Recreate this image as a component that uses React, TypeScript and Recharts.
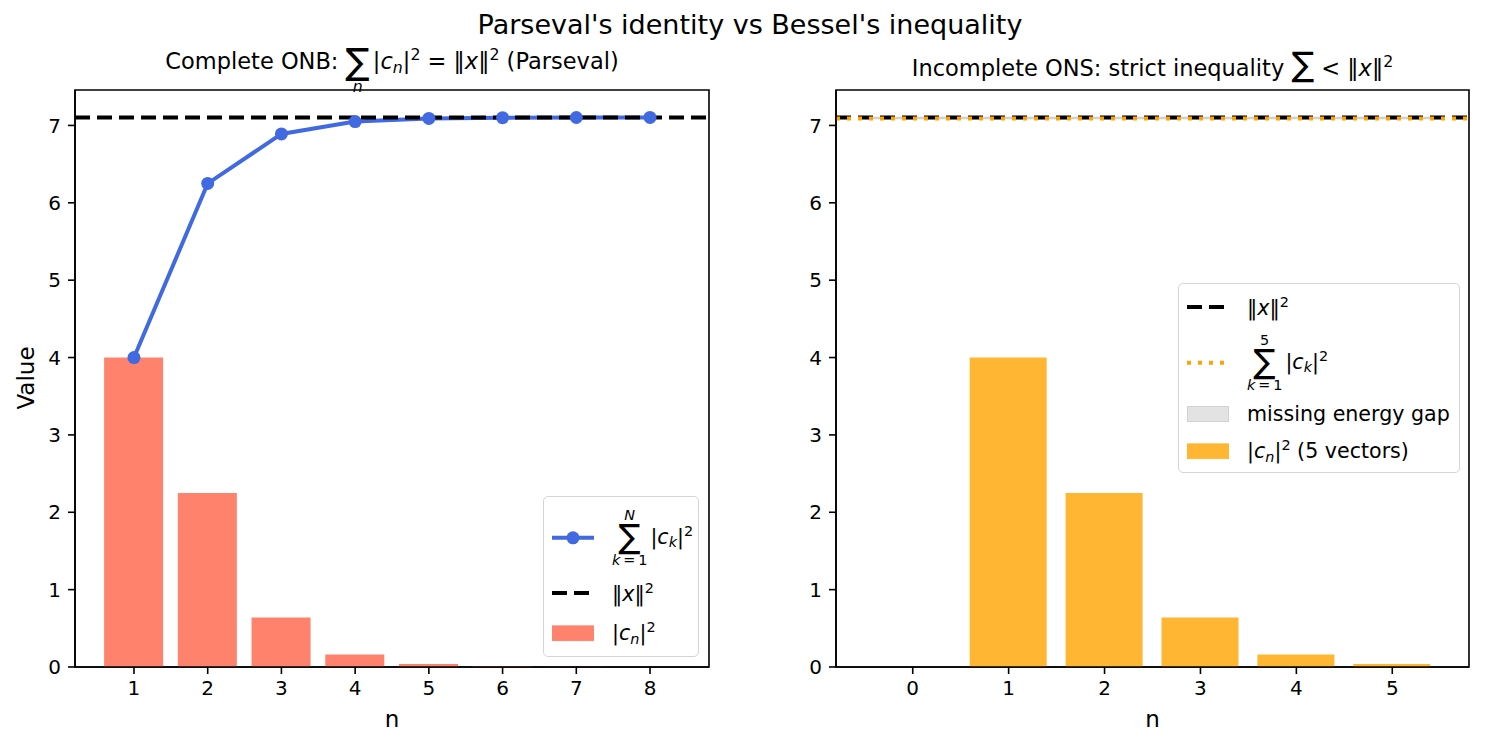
import React from 'react';
import { ComposedChart, Bar, Line, XAxis, YAxis, ReferenceLine, ReferenceArea } from 'recharts';

// left panel: complete ONB, n = 1..8
const nFull = [1, 2, 3, 4, 5, 6, 7, 8];
const coeffSq = [4, 2.25, 0.64, 0.16, 0.04, 0.01, 0.0025, 0.000625];
const partialSums = [4, 6.25, 6.89, 7.05, 7.09, 7.1, 7.1025, 7.1031];
const normSq = 7.1031;

// right panel: incomplete ONS, 5 vectors
const nPartial = [1, 2, 3, 4, 5];
const coeffSqPartial = [4, 2.25, 0.64, 0.16, 0.04];
const partialSum5 = 7.09;

const leftTicks = [1, 2, 3, 4, 5, 6, 7, 8];
const rightTicks = [0, 1, 2, 3, 4, 5];
const yTicks = [0, 1, 2, 3, 4, 5, 6, 7];
const yMax = 7.458;

const FONT = '"DejaVu Sans", sans-serif';
const BLUE = '#4169E1';
const SALMON = '#FF826C';
const ORANGE = '#FFB733';

const leftData = nFull.map((n, i) => ({ n, c: coeffSq[i], s: partialSums[i] }));
const rightData = nPartial.map((n, i) => ({ n, c: coeffSqPartial[i] }));

const tickStyle = { fontSize: 20, fill: '#000', fontFamily: FONT };
const axisLine = { stroke: '#000', strokeWidth: 1.6 };

const Sub = ({ children }: any) => <sub style={{ fontSize: '0.7em', verticalAlign: '-0.25em' }}>{children}</sub>;
const Sup = ({ children }: any) => <sup style={{ fontSize: '0.7em', verticalAlign: '0.55em' }}>{children}</sup>;

const AbsC = ({ k = 'n' }: { k?: string }) => <span>|<i>c</i><Sub><i>{k}</i></Sub>|<Sup>2</Sup></span>;
const Norm = () => <span>‖<i>x</i>‖<Sup>2</Sup></span>;
const KEq1 = () => <span><i>k</i>{'\u2009'}={'\u2009'}1</span>;

function SumLimits({ top, bottom }: { top?: React.ReactNode; bottom?: React.ReactNode }) {
  return (
    <span style={{ display: 'inline-flex', flexDirection: 'column', alignItems: 'center', verticalAlign: 'middle', lineHeight: 1, margin: '0 3px 0 0' }}>
      <span style={{ fontSize: '0.7em', height: '1.05em' }}>{top}</span>
      <span style={{ fontSize: '1.6em', lineHeight: 0.85 }}>∑</span>
      <span style={{ fontSize: '0.7em', height: '1.05em', marginTop: 2 }}>{bottom}</span>
    </span>
  );
}

const Handle = ({ kind, color }: { kind: string; color: string }) => (
  <svg width={42} height={16} style={{ display: 'block' }}>
    {kind === 'patch' && <rect x={0.5} y={0.5} width={41} height={15} fill={color} stroke={color === '#e3e3e3' ? '#d2d2d2' : color} />}
    {kind === 'marker' && <>
      <line x1={0} x2={42} y1={8} y2={8} stroke={color} strokeWidth={4} />
      <circle cx={21} cy={8} r={6.5} fill={color} />
    </>}
    {kind === 'dashed' && <line x1={0} x2={42} y1={8} y2={8} stroke={color} strokeWidth={4} strokeDasharray="15 7" />}
    {kind === 'dotted' && <line x1={0} x2={42} y1={8} y2={8} stroke={color} strokeWidth={4} strokeDasharray="4 7" />}
  </svg>
);

const Row = ({ y, handle, children }: any) => (
  <div style={{ position: 'absolute', left: 8, top: y, transform: 'translateY(-50%)', display: 'flex', alignItems: 'center' }}>
    {handle}
    <div style={{ marginLeft: 18, whiteSpace: 'nowrap' }}>{children}</div>
  </div>
);

const legendBox = (left: number, top: number, width: number, height: number): React.CSSProperties => ({
  position: 'absolute', left, top, width, height, border: '1.5px solid #d5d5d5', borderRadius: 5,
  background: 'rgba(255,255,255,0.8)', fontSize: 20.6, boxSizing: 'border-box',
});

function Panel({ data, ticks, domain, barSize, barColor, children, left, margin }: any) {
  return (
    <div style={{ position: 'absolute', left, top: 0 }}>
      <ComposedChart width={740} height={749} data={data} margin={margin}>
        <XAxis dataKey="n" type="number" domain={domain} ticks={ticks} allowDataOverflow interval={0}
          height={30} tickSize={7} tickMargin={7} tick={tickStyle} axisLine={axisLine} tickLine={axisLine} />
        <YAxis type="number" domain={[0, yMax]} ticks={yTicks} allowDataOverflow interval={0}
          width={60} tickSize={7} tickMargin={7} tick={tickStyle} axisLine={axisLine} tickLine={axisLine} />
        <Bar dataKey="c" fill={barColor} barSize={barSize} isAnimationActive={false} />
        {children}
        {/* axes frame */}
        <ReferenceArea x1={domain[0]} x2={domain[1]} y1={0} y2={yMax} fill="none" stroke="#000" strokeWidth={1.6} ifOverflow="visible" />
      </ComposedChart>
    </div>
  );
}

export default function App() {
  return (
    <div style={{ position: 'absolute', left: 0, top: 0, width: 1485, height: 749, background: '#fff', fontFamily: FONT, color: '#000', overflow: 'hidden' }}>
      <div style={{ position: 'absolute', left: 0, width: 1500, top: 9, textAlign: 'center', fontSize: 27 }}>
        Parseval's identity vs Bessel's inequality
      </div>

      <Panel left={0} data={leftData} ticks={leftTicks} domain={[0.2, 8.8]} barSize={59} barColor={SALMON}
        margin={{ top: 90, right: 31, bottom: 52, left: 15 }}>
        <Line dataKey="s" stroke={BLUE} strokeWidth={4} dot={{ r: 6.5, fill: BLUE, stroke: 'none' }} isAnimationActive={false} />
        <ReferenceLine y={normSq} stroke="#000" strokeWidth={4} strokeDasharray="15 7" />
      </Panel>

      <Panel left={745} data={rightData} ticks={rightTicks} domain={[-0.8, 5.8]} barSize={77} barColor={ORANGE}
        margin={{ top: 90, right: 16, bottom: 52, left: 31 }}>
        <ReferenceArea x1={-0.5} x2={5.5} y1={partialSum5} y2={normSq} fill="#d3d3d3" fillOpacity={0.6} stroke="#cfcfcf" strokeWidth={1.5} />
        <ReferenceLine y={normSq} stroke="#000" strokeWidth={4} strokeDasharray="15 7" />
        <ReferenceLine y={partialSum5} stroke="#FFA500" strokeWidth={4} strokeDasharray="4 7" />
      </Panel>

      {/* titles */}
      <div style={{ position: 'absolute', left: 75, width: 634, top: 30, textAlign: 'center', fontSize: 22.5 }}>
        Complete ONB: <SumLimits bottom={<i>n</i>} /><AbsC /> = <Norm /> (Parseval)
      </div>
      <div style={{ position: 'absolute', left: 836, width: 633, top: 51, textAlign: 'center', fontSize: 22.5 }}>
        Incomplete ONS: strict inequality <span style={{ fontSize: '1.5em', lineHeight: 0.8 }}>∑</span> &lt; <Norm />
      </div>

      {/* axis labels */}
      <div style={{ position: 'absolute', left: 75, width: 634, top: 706, textAlign: 'center', fontSize: 23 }}>n</div>
      <div style={{ position: 'absolute', left: 836, width: 633, top: 706, textAlign: 'center', fontSize: 23 }}>n</div>
      <div style={{ position: 'absolute', left: 26, top: 378, transform: 'translate(-50%, -50%) rotate(-90deg)', fontSize: 23 }}>Value</div>

      {/* left legend */}
      <div style={legendBox(543, 496, 156, 161)}>
        <Row y={41} handle={<Handle kind="marker" color={BLUE} />}>
          <SumLimits top={<i>N</i>} bottom={<KEq1 />} /><AbsC k="k" />
        </Row>
        <Row y={96} handle={<Handle kind="dashed" color="#000" />}><Norm /></Row>
        <Row y={136} handle={<Handle kind="patch" color={SALMON} />}><AbsC /></Row>
      </div>

      {/* right legend */}
      <div style={legendBox(1178, 283, 282, 190)}>
        <Row y={23} handle={<Handle kind="dashed" color="#000" />}><Norm /></Row>
        <Row y={79} handle={<Handle kind="dotted" color="#FFA500" />}>
          <SumLimits top="5" bottom={<KEq1 />} /><AbsC k="k" />
        </Row>
        <Row y={130} handle={<Handle kind="patch" color="#e3e3e3" />}>missing energy gap</Row>
        <Row y={167} handle={<Handle kind="patch" color={ORANGE} />}><AbsC /> (5 vectors)</Row>
      </div>
    </div>
  );
}
